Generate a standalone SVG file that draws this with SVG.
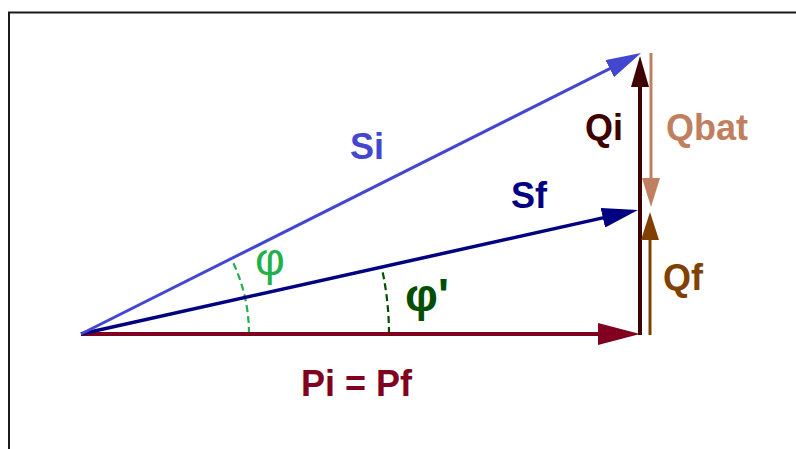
<svg xmlns="http://www.w3.org/2000/svg" width="796" height="449" viewBox="0 0 796 449">
<style>
.lbl{font-family:"Liberation Sans",Arial,sans-serif;font-weight:bold;font-size:36px}
.greek{font-family:"Liberation Sans",Arial,sans-serif;font-size:46px}
.vec{fill:none;stroke-linecap:butt}
.arc{fill:none;stroke-width:2.2;stroke-dasharray:7 4}
</style>
<defs>
<marker id="mSi" markerUnits="userSpaceOnUse" markerWidth="35" markerHeight="19" viewBox="0 0 35 19" refX="23" refY="9.5" orient="auto"><path d="M0,0 L35,9.5 L0,19 z" fill="#4347D0"/></marker>
<marker id="mSf" markerUnits="userSpaceOnUse" markerWidth="36" markerHeight="20" viewBox="0 0 36 20" refX="24" refY="10" orient="auto"><path d="M0,0 L36,10 L0,20 z" fill="#000080"/></marker>
<marker id="mPi" markerUnits="userSpaceOnUse" markerWidth="42" markerHeight="22" viewBox="0 0 42 22" refX="30" refY="11" orient="auto"><path d="M0,0 L42,11 L0,22 z" fill="#800020"/></marker>
<marker id="mQi" markerUnits="userSpaceOnUse" markerWidth="31" markerHeight="18" viewBox="0 0 31 18" refX="19" refY="9" orient="auto"><path d="M0,0 L31,9 L0,18 z" fill="#3F0000"/></marker>
<marker id="mQbat" markerUnits="userSpaceOnUse" markerWidth="29" markerHeight="18" viewBox="0 0 29 18" refX="17" refY="9" orient="auto"><path d="M0,0 L29,9 L0,18 z" fill="#C08060"/></marker>
<marker id="mQf" markerUnits="userSpaceOnUse" markerWidth="28" markerHeight="18" viewBox="0 0 28 18" refX="16" refY="9" orient="auto"><path d="M0,0 L28,9 L0,18 z" fill="#804000"/></marker>
</defs>
<rect width="796" height="449" fill="#fff"/>
<g id="frame" stroke="#1a1a1a" stroke-width="2" fill="none">
<path d="M9,449 L9,12.5 L796,12.5"/>
</g>
<g id="connectors">
<path id="arc-phi" class="arc" stroke="#22B04A" d="M249,334 A168,168 0 0,0 231.2,258.6"/>
<path id="arc-phi2" class="arc" stroke="#004F00" d="M389,334 A308,308 0 0,0 381.6,267.1"/>
<path id="vec-Pi" class="vec" stroke="#800020" stroke-width="4" d="M81,334 L628,334" marker-end="url(#mPi)"/>
<path id="vec-Sf" class="vec" stroke="#000080" stroke-width="3.5" d="M81,334 L626.3,212.6" marker-end="url(#mSf)"/>
<path id="vec-Si" class="vec" stroke="#4347D0" stroke-width="3" d="M81,334 L630.3,58.4" marker-end="url(#mSi)"/>
<path id="vec-Qi" class="vec" stroke="#3F0000" stroke-width="4" d="M640,335 L640,68" marker-end="url(#mQi)"/>
<path id="vec-Qbat" class="vec" stroke="#C08060" stroke-width="3" d="M651,53 L651,195" marker-end="url(#mQbat)"/>
<path id="vec-Qf" class="vec" stroke="#804000" stroke-width="3" d="M650,335 L650,224" marker-end="url(#mQf)"/>
</g>
<g id="label-Si"><text class="lbl" x="350" y="159" fill="#4347D0">Si</text></g>
<g id="label-Sf"><text class="lbl" x="511" y="208" fill="#000080">Sf</text></g>
<g id="label-Pi"><text class="lbl" x="301" y="396" fill="#800020">Pi = Pf</text></g>
<g id="label-Qi"><text class="lbl" x="585" y="140" fill="#3F0000">Qi</text></g>
<g id="label-Qbat"><text class="lbl" x="666" y="140" fill="#C08060">Qbat</text></g>
<g id="label-Qf"><text class="lbl" x="663" y="290" fill="#804000">Qf</text></g>
<g id="label-phi"><text class="greek" x="255" y="275" fill="#22B04A">φ</text></g>
<g id="label-phi2"><text class="greek" x="405" y="311" font-weight="bold" fill="#004F00">φ'</text></g>
</svg>
